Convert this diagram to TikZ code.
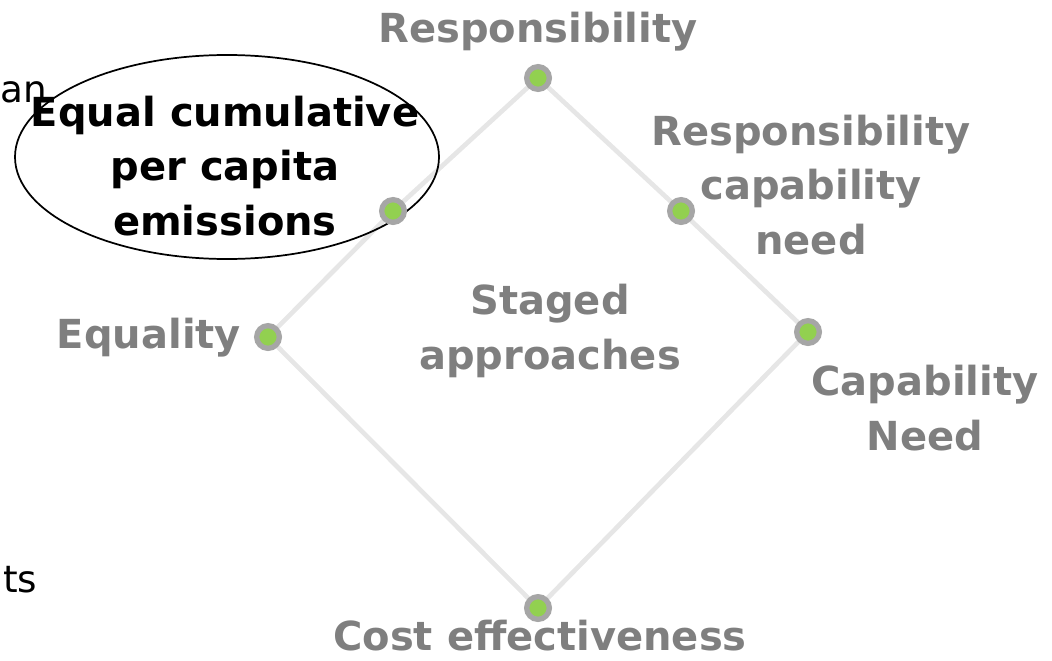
\documentclass[tikz,border=0pt]{standalone}
\usepackage{fontspec}
\setmainfont{DejaVu Sans}
\usepackage{tikz}
\definecolor{labelgray}{HTML}{7F7F7F}
\definecolor{linegray}{HTML}{E6E6E6}
\definecolor{dotgray}{HTML}{A6A6A6}
\definecolor{dotgreen}{HTML}{92D050}
\tikzstyle{edge} = [draw=linegray,line width=3.5pt]
\tikzstyle{dot} = [circle,fill=dotgreen,draw=dotgray,line width=4pt,minimum size=17pt,inner sep=0pt]
\tikzstyle{principle} = [align=center,text=labelgray,inner sep=0pt,font=\bfseries\fontsize{30}{41}\selectfont]
\tikzstyle{cutoff} = [anchor=base west,inner sep=0pt,font=\fontsize{28}{34}\selectfont]

\begin{document}
\begin{tikzpicture}[x=0.75pt,y=-0.75pt]
\useasboundingbox (0,0) rectangle (1052,660);

\node (an) [cutoff] at (0,103) {an};
\node (ts) [cutoff] at (3,592) {ts};

\coordinate (resp) at (538,78);
\coordinate (ecpc) at (393,211);
\coordinate (rcn) at (681,211);
\coordinate (eq) at (268,337);
\coordinate (cap) at (808,332);
\coordinate (cost) at (538,608);

\draw [edge] (resp) -- (ecpc) -- (eq) -- (cost) -- (cap) -- (rcn) -- (resp);

\draw [black,line width=1.3pt] (227,157) ellipse [x radius=212,y radius=102];

\node (respdot) [dot] at (resp) {};
\node (ecpcdot) [dot] at (ecpc) {};
\node (rcndot) [dot] at (rcn) {};
\node (eqdot) [dot] at (eq) {};
\node (capdot) [dot] at (cap) {};
\node (costdot) [dot] at (cost) {};

\node (resplabel) [principle] at (538,32) {Responsibility};
\node (rcnlabel) [principle] at (811,185) {Responsibility\\capability\\need};
\node (staged) [principle] at (550,331) {Staged\\approaches};
\node (eqlabel) [principle] at (149,338) {Equality};
\node (caplabel) [principle] at (925,408) {Capability\\Need};
\node (costlabel) [principle] at (540,636) {Cost effectiveness};
\node (ecpclabel) [principle,text=black] at (225,166) {Equal cumulative\\per capita\\emissions};

\end{tikzpicture}
\end{document}
